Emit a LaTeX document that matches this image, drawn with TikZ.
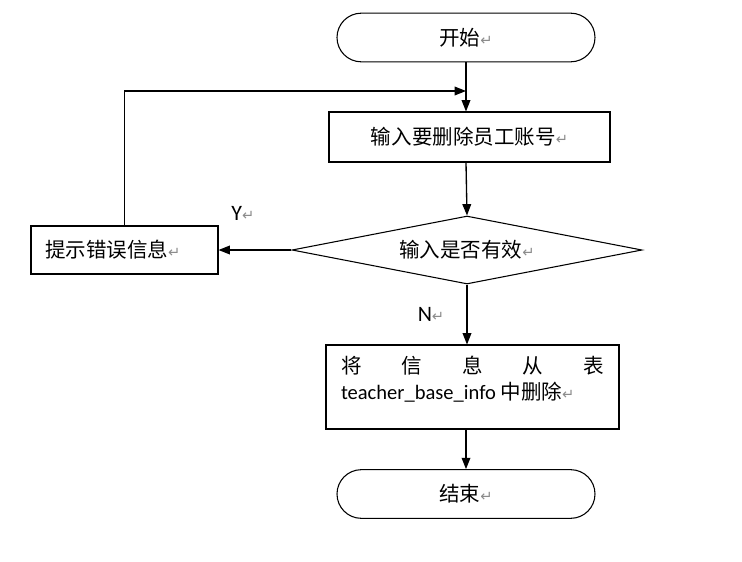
\documentclass[tikz,border=0pt]{standalone}
\usepackage{fontspec}
\usepackage{xcolor}
\usepackage{tikz}
\setmainfont{Carlito}
\newfontfamily\cjk{Noto Sans CJK SC}
\newfontfamily\symbfont{DejaVu Sans}
\usetikzlibrary{arrows.meta, positioning, calc, shapes.geometric, shapes.misc}
\definecolor{markGray}{HTML}{8C8C8C}
\newcommand{\pmark}{{\symbfont\color{markGray}\fontsize{11pt}{11pt}\selectfont ↵}}

\begin{document}
\begin{tikzpicture}[>={Triangle[length=8.5pt, width=6.5pt]}, x=0.75pt, y=-0.75pt,
		flowline/.style={->, line width=1pt},
		term/.style={draw, line width=0.8pt, rounded rectangle, minimum width=193.5pt, minimum height=36.5pt, inner sep=0pt, font=\cjk\fontsize{15.4pt}{18pt}\selectfont},
		proc/.style={draw, line width=0.8pt, rectangle, inner sep=0pt, font=\cjk\fontsize{15.4pt}{18pt}\selectfont},
		decide/.style={draw, line width=0.8pt, diamond, aspect=5, inner sep=0pt, minimum width=262.5pt, minimum height=51pt, font=\cjk\fontsize{15.4pt}{18pt}\selectfont},
		yn/.style={font=\fontsize{16.5pt}{18pt}\selectfont}]
	\useasboundingbox (0,0) rectangle (742,561);
	
	% main column
	\node[term] (start) at (466, 37.5) {开始\pmark};
	\node[proc, minimum width=210.75pt, minimum height=37.5pt] (inp) at (469.5, 137) {输入要删除员工账号\pmark};
	\node[decide] (dec) at (467, 250) {输入是否有效\pmark};
	\node[proc, minimum width=140.25pt, minimum height=36pt, inner xsep=10.5pt, text width=119.25pt, align=left] (err) at (124.5, 250) {提示错误信息\pmark};
	\node[proc, minimum width=219.75pt, minimum height=63pt, inner xsep=11.25pt, inner ysep=8pt] (del) at (472.5, 387)
		{\parbox[c][47pt][t]{197.25pt}{\baselineskip=20pt
			\makebox[\linewidth][s]{将\hfill 信\hfill 息\hfill 从\hfill 表}\\
			{\fontsize{15.4pt}{20pt}\fontspec{Carlito}teacher\_base\_info} 中删除\pmark}};
	\node[term] (end) at (466, 494) {结束\pmark};
	
	% labels
	\node[yn] (ylab) at (243, 213) {Y\pmark};
	\node[yn] (nlab) at (431, 314) {N\pmark};
	\coordinate (join) at (466, 91);
	
	% connectors
	\draw[flowline] (start.south) -- (start.south |- inp.north);
	\draw[flowline] (start.south |- inp.south) -- (dec.north);
	\draw[flowline] (dec.west) -- (err.east);
	\draw[flowline] (err.north) |- (join);
	\draw[flowline] (dec.south) -- (dec.south |- del.north);
	\draw[flowline] (end.north |- del.south) -- (end.north);
\end{tikzpicture}
\end{document}
